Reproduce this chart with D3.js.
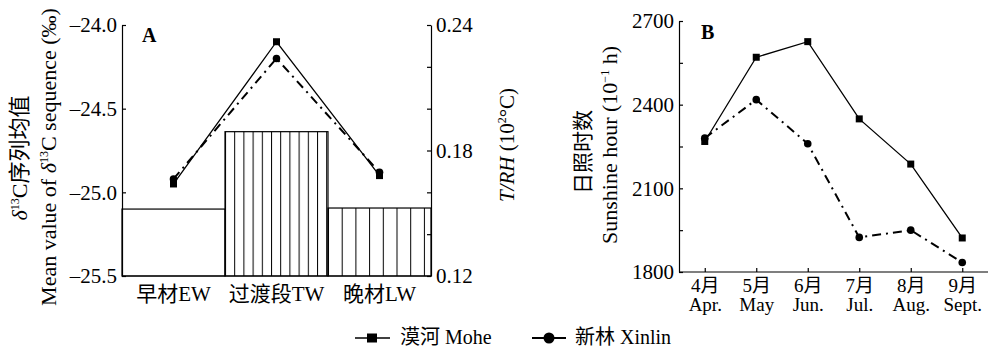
<!DOCTYPE html>
<html>
<head>
<meta charset="utf-8">
<script src="https://cdn.jsdelivr.net/npm/d3@7"></script>
<style>
  body { margin: 0; background: #fff; }
  svg text { font-family: "Liberation Serif", "Times New Roman", "Noto Sans CJK SC", serif; fill: #000; }
</style>
</head>
<body>
<div id="chart"></div>
<script>
// Panel A: wood sections
var sections = ["早材EW", "过渡段TW", "晚材LW"];
var trhValues = [0.152, 0.189, 0.1525];
var moheDelta = [-24.95, -24.1, -24.9];
var xinlinDelta = [-24.92, -24.2, -24.88];

// Panel B: monthly sunshine
var monthsCn = ["4月", "5月", "6月", "7月", "8月", "9月"];
var monthsEn = ["Apr.", "May", "Jun.", "Jul.", "Aug.", "Sept."];
var moheSun = [2268, 2570, 2626, 2349, 2187, 1922];
var xinlinSun = [2280, 2418, 2260, 1924, 1950, 1834];

var deltaTicks = [-25.5, -25.0, -24.5, -24.0];
var trhTicks = [0.12, 0.14, 0.16, 0.18, 0.20, 0.22, 0.24];
var trhLabels = [0.12, 0.18, 0.24];
var sunTicks = [1800, 1950, 2100, 2250, 2400, 2550, 2700];
var sunLabels = [1800, 2100, 2400, 2700];

var width = 994, height = 349;
var dashDot = "9,5,2,5";

var svg = d3.select("#chart").append("svg")
    .attr("width", width)
    .attr("height", height);

var fmtDelta = function (d) { return (d < 0 ? "\u2013" : "") + Math.abs(d).toFixed(1); };

// ---------- Panel A ----------
var xA = d3.scaleBand().domain(sections).range([122, 431]).padding(0);
var yL = d3.scaleLinear().domain([-25.5, -24.0]).range([276, 25]);
var yR = d3.scaleLinear().domain([0.12, 0.24]).range([276, 25]);

var defs = svg.append("defs");
// vertical hatching, TW dense, LW sparse
[["hatchTW", 9.2, xA("过渡段TW")], ["hatchLW", 13.7, xA("晚材LW")]].forEach(function (h) {
    var p = defs.append("pattern")
        .attr("id", h[0])
        .attr("patternUnits", "userSpaceOnUse")
        .attr("x", h[2])
        .attr("y", 0)
        .attr("width", h[1])
        .attr("height", 10);
    p.append("rect").attr("width", h[1]).attr("height", 10).attr("fill", "#fff");
    p.append("line")
        .attr("x1", 0.5).attr("x2", 0.5)
        .attr("y1", 0).attr("y2", 10)
        .attr("stroke", "#000").attr("stroke-width", 1);
});
var fills = ["#fff", "url(#hatchTW)", "url(#hatchLW)"];

svg.append("g")
    .selectAll("rect")
    .data(trhValues)
    .join("rect")
    .attr("x", (d, i) => xA(sections[i]))
    .attr("y", (d) => yR(d))
    .attr("width", xA.bandwidth())
    .attr("height", (d) => yR(0.12) - yR(d))
    .attr("fill", (d, i) => fills[i])
    .attr("stroke", "#000")
    .attr("stroke-width", 1.2);

var lineA = function (vals) {
    return d3.line()
        .x((d, i) => xA(sections[i]) + xA.bandwidth() / 2)
        .y((d) => yL(d))(vals);
};

svg.append("path")
    .attr("d", lineA(moheDelta))
    .attr("fill", "none")
    .attr("stroke", "#000")
    .attr("stroke-width", 1.3);
svg.append("path")
    .attr("d", lineA(xinlinDelta))
    .attr("fill", "none")
    .attr("stroke", "#000")
    .attr("stroke-width", 2)
    .attr("stroke-dasharray", dashDot);

svg.append("g")
    .selectAll("rect")
    .data(moheDelta)
    .join("rect")
    .attr("x", (d, i) => xA(sections[i]) + xA.bandwidth() / 2 - 3.5)
    .attr("y", (d) => yL(d) - 3.5)
    .attr("width", 7)
    .attr("height", 7)
    .attr("fill", "#000");
svg.append("g")
    .selectAll("circle")
    .data(xinlinDelta)
    .join("circle")
    .attr("cx", (d, i) => xA(sections[i]) + xA.bandwidth() / 2)
    .attr("cy", (d) => yL(d))
    .attr("r", 3.8)
    .attr("fill", "#000");

// axes A
var axisStyle = function (g) {
    g.selectAll("path, line").attr("stroke", "#000").attr("stroke-width", 1.2);
    g.selectAll("text").style("font-size", "21px").attr("fill", "#000");
};

svg.append("g")
    .attr("transform", "translate(122,0)")
    .call(d3.axisLeft(yL).tickValues(deltaTicks).tickFormat(fmtDelta)
        .tickSizeInner(-4).tickSizeOuter(0).tickPadding(5))
    .call(axisStyle);

svg.append("g")
    .attr("transform", "translate(431,0)")
    .call(d3.axisRight(yR).tickValues(trhTicks)
        .tickFormat((d) => trhLabels.some((v) => Math.abs(v - d) < 1e-9) ? d.toFixed(2) : "")
        .tickSizeInner(-4).tickSizeOuter(0).tickPadding(5))
    .call(axisStyle);

svg.append("line")
    .attr("x1", 122).attr("x2", 431)
    .attr("y1", 276).attr("y2", 276)
    .attr("stroke", "#000").attr("stroke-width", 1.2);

svg.append("g")
    .selectAll("text")
    .data(sections)
    .join("text")
    .attr("x", (d) => xA(d) + xA.bandwidth() / 2)
    .attr("y", 301)
    .attr("text-anchor", "middle")
    .style("font-size", "21px")
    .text((d) => d);

svg.append("text")
    .attr("x", 142).attr("y", 42)
    .attr("font-weight", "bold")
    .style("font-size", "20px")
    .text("A");

// left title A (two lines)
var tA = svg.append("text")
    .attr("transform", "translate(27,158) rotate(-90)")
    .attr("text-anchor", "middle")
    .style("font-size", "22px");
tA.append("tspan").attr("font-style", "italic").text("δ");
tA.append("tspan").attr("dy", -8).style("font-size", "12px").text("13");
tA.append("tspan").attr("dy", 8).text("C序列均值");

var tA2 = svg.append("text")
    .attr("transform", "translate(56,157) rotate(-90)")
    .attr("text-anchor", "middle")
    .style("font-size", "22px");
tA2.append("tspan").text("Mean value of ");
tA2.append("tspan").attr("font-style", "italic").text("δ");
tA2.append("tspan").attr("dy", -8).style("font-size", "12px").text("13");
tA2.append("tspan").attr("dy", 8).text("C sequence (‰)");

// right title A
var tR = svg.append("text")
    .attr("transform", "translate(514,145) rotate(-90)")
    .attr("text-anchor", "middle")
    .style("font-size", "21px");
tR.append("tspan").attr("font-style", "italic").text("T/RH");
tR.append("tspan").text(" (10");
tR.append("tspan").attr("dy", -8).style("font-size", "12px").text("2");
tR.append("tspan").attr("dy", 8).text("°C)");

// ---------- Panel B ----------
var xB = d3.scalePoint().domain(monthsCn).range([679, 988]).padding(0.5);
var yB = d3.scaleLinear().domain([1800, 2700]).range([272, 21]);

var lineB = d3.line()
    .x((d, i) => xB(monthsCn[i]))
    .y((d) => yB(d));

svg.append("path")
    .attr("d", lineB(moheSun))
    .attr("fill", "none")
    .attr("stroke", "#000")
    .attr("stroke-width", 1.3);
svg.append("path")
    .attr("d", lineB(xinlinSun))
    .attr("fill", "none")
    .attr("stroke", "#000")
    .attr("stroke-width", 2)
    .attr("stroke-dasharray", dashDot);

svg.append("g")
    .selectAll("rect")
    .data(moheSun)
    .join("rect")
    .attr("x", (d, i) => xB(monthsCn[i]) - 3.5)
    .attr("y", (d) => yB(d) - 3.5)
    .attr("width", 7)
    .attr("height", 7)
    .attr("fill", "#000");
svg.append("g")
    .selectAll("circle")
    .data(xinlinSun)
    .join("circle")
    .attr("cx", (d, i) => xB(monthsCn[i]))
    .attr("cy", (d) => yB(d))
    .attr("r", 3.8)
    .attr("fill", "#000");

svg.append("g")
    .attr("transform", "translate(679,0)")
    .call(d3.axisLeft(yB).tickValues(sunTicks)
        .tickFormat((d) => sunLabels.includes(d) ? d : "")
        .tickSizeInner(-4).tickSizeOuter(0).tickPadding(5))
    .call(axisStyle);

// month labels: Chinese line above English line
var xAxisB = svg.append("g")
    .attr("transform", "translate(0,272)")
    .call(d3.axisBottom(xB).tickSizeInner(-4).tickSizeOuter(0).tickPadding(4))
    .call(axisStyle);
xAxisB.select(".domain").attr("d", "M679,0H988");
xAxisB.selectAll(".tick text").each(function (d, i) {
    var t = d3.select(this).text(null).attr("y", 0).attr("dy", null).style("font-size", "19px");
    t.append("tspan").attr("x", 0).attr("y", 20).text(d);
    t.append("tspan").attr("x", 0).attr("y", 39).text(monthsEn[i]);
});

svg.append("text")
    .attr("x", 701).attr("y", 39)
    .attr("font-weight", "bold")
    .style("font-size", "20px")
    .text("B");

svg.append("text")
    .attr("transform", "translate(590,152) rotate(-90)")
    .attr("text-anchor", "middle")
    .style("font-size", "21px")
    .text("日照时数");

var tB = svg.append("text")
    .attr("transform", "translate(617,145) rotate(-90)")
    .attr("text-anchor", "middle")
    .style("font-size", "22px");
tB.append("tspan").text("Sunshine hour (10");
tB.append("tspan").attr("dy", -8).style("font-size", "12px").text("\u22121");
tB.append("tspan").attr("dy", 8).text(" h)");

// ---------- Legend ----------
var legend = svg.append("g").attr("transform", "translate(0,338)");
legend.append("line")
    .attr("x1", 355).attr("x2", 390).attr("y1", 0).attr("y2", 0)
    .attr("stroke", "#000").attr("stroke-width", 1.5);
legend.append("rect")
    .attr("x", 367).attr("y", -4.5).attr("width", 10).attr("height", 9)
    .attr("fill", "#000");
legend.append("text")
    .attr("x", 400).attr("y", 6)
    .style("font-size", "20px")
    .text("漠河 Mohe");

legend.append("line")
    .attr("x1", 532).attr("x2", 566).attr("y1", 0).attr("y2", 0)
    .attr("stroke", "#000").attr("stroke-width", 2);
legend.append("circle")
    .attr("cx", 549).attr("cy", 0).attr("r", 5.5)
    .attr("fill", "#000");
legend.append("text")
    .attr("x", 575).attr("y", 6)
    .style("font-size", "20px")
    .text("新林 Xinlin");
</script>
</body>
</html>
